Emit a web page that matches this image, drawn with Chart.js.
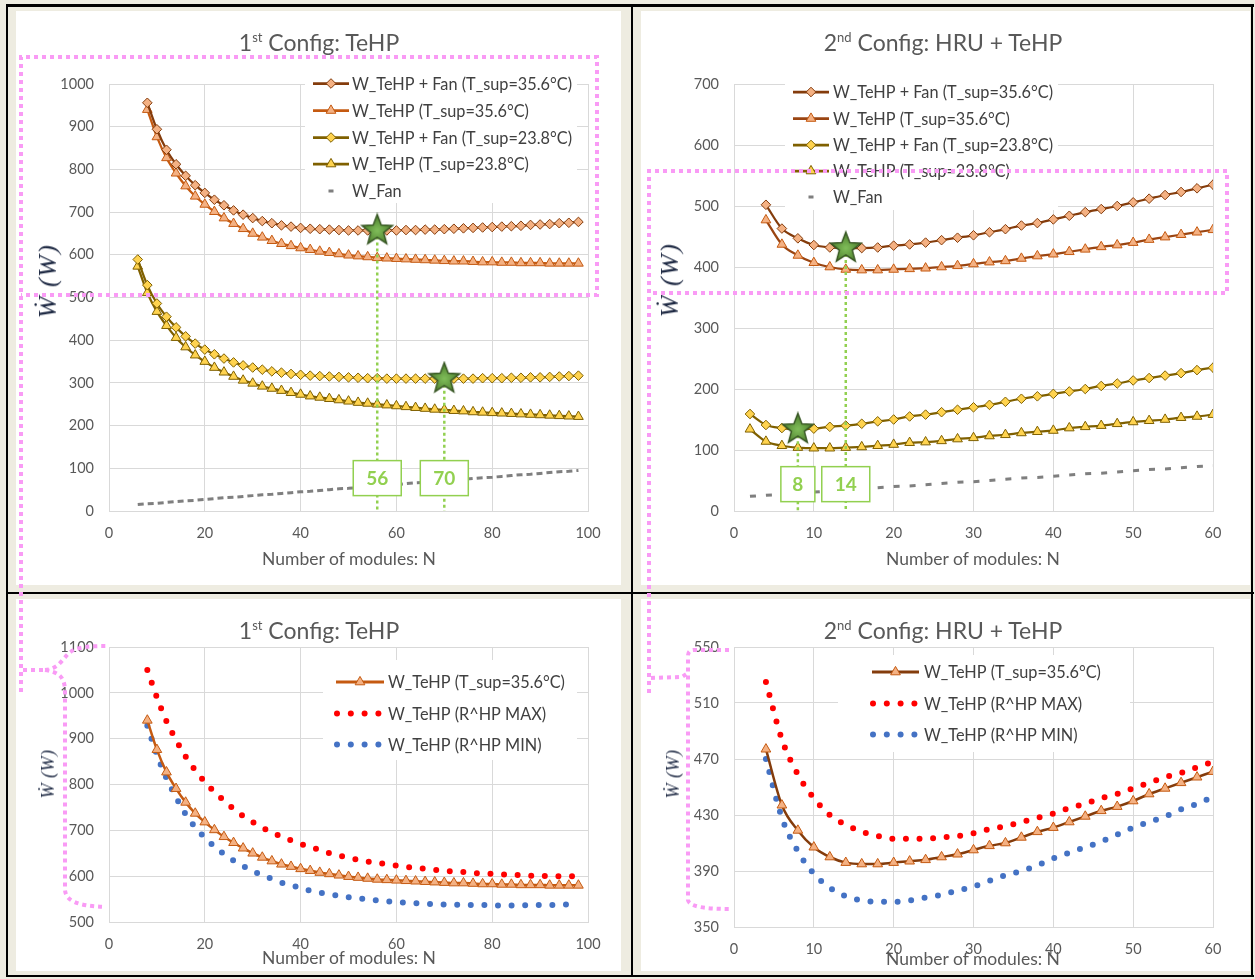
<!DOCTYPE html>
<html>
<head>
<meta charset="utf-8">
<title>Power consumption vs number of modules</title>
<script src="https://cdn.jsdelivr.net/npm/chart.js@4.4.1/dist/chart.umd.min.js"></script>
<style>
  html, body { margin: 0; padding: 0; }
  body { width: 1255px; height: 979px; background: #EEECE1; position: relative; overflow: hidden;
         font-family: Lato, "Open Sans", sans-serif; }
  .rule { position: absolute; background: #000; z-index: 5; }
  .panel { position: absolute; background: #fff; z-index: 1; }
  canvas.plot { position: absolute; z-index: 2; }
  .txt { position: absolute; transform: translate(-50%, -50%); white-space: nowrap; z-index: 3;
         line-height: 1; color: #595959; }
  .title { font-size: 23px; }
  .title sup { font-size: 13px; vertical-align: 9px; line-height: 0; }
  .xtitle { font-size: 17.5px; }
  .ytitle { font-family: "Liberation Serif", "DejaVu Serif", serif; font-style: italic; color: #1F2A44;
            transform: translate(-50%, -50%) rotate(-90deg); }
  #overlay { position: absolute; left: 0; top: 0; z-index: 6; pointer-events: none; }
</style>
</head>
<body>

<!-- white chart panels -->
<div class="panel" style="left:16px;top:11px;width:605px;height:574px"></div>
<div class="panel" style="left:641px;top:11px;width:609px;height:574px"></div>
<div class="panel" style="left:16px;top:599px;width:605px;height:372px"></div>
<div class="panel" style="left:641px;top:599px;width:609px;height:372px"></div>

<!-- black frame -->
<div class="rule" style="left:6px;top:4px;width:1248px;height:3px"></div>
<div class="rule" style="left:6px;top:975px;width:1248px;height:2px"></div>
<div class="rule" style="left:6px;top:4px;width:2px;height:973px"></div>
<div class="rule" style="left:1251px;top:4px;width:2px;height:973px"></div>
<div class="rule" style="left:631px;top:4px;width:2px;height:973px"></div>
<div class="rule" style="left:6px;top:592px;width:1248px;height:2px"></div>

<canvas class="plot" id="c1"></canvas>
<canvas class="plot" id="c2"></canvas>
<canvas class="plot" id="c3"></canvas>
<canvas class="plot" id="c4"></canvas>

<!-- titles and axis titles -->
<div class="txt title" style="left:319px;top:42px">1<sup>st</sup> Config: TeHP</div>
<div class="txt title" style="left:943px;top:42px">2<sup>nd</sup> Config: HRU + TeHP</div>
<div class="txt title" style="left:319px;top:630px">1<sup>st</sup> Config: TeHP</div>
<div class="txt title" style="left:943px;top:630px">2<sup>nd</sup> Config: HRU + TeHP</div>

<div class="txt xtitle" style="left:349px;top:559px">Number of modules: N</div>
<div class="txt xtitle" style="left:973px;top:559px">Number of modules: N</div>
<div class="txt xtitle" style="left:349px;top:958px">Number of modules: N</div>
<div class="txt xtitle" style="left:973px;top:959px">Number of modules: N</div>

<div class="txt ytitle" style="left:48px;top:281px;font-size:26px;letter-spacing:1.5px">Ẇ (W)</div>
<div class="txt ytitle" style="left:670px;top:280px;font-size:26px;letter-spacing:1.5px">Ẇ (W)</div>
<div class="txt ytitle" style="left:48px;top:774px;font-size:18px;letter-spacing:0.5px">Ẇ (W)</div>
<div class="txt ytitle" style="left:673px;top:774px;font-size:18px;letter-spacing:0.5px">Ẇ (W)</div>

<canvas id="overlay" width="1255" height="979"></canvas>

<script>
// ---- number of modules ----
const N_CFG1 = [8,10,12,14,16,18,20,22,24,26,28,30,32,34,36,38,40,42,44,46,48,50,52,54,56,58,60,62,64,66,68,70,72,74,76,78,80,82,84,86,88,90,92,94,96,98];
const N_CFG1_FROM6 = [6,8,10,12,14,16,18,20,22,24,26,28,30,32,34,36,38,40,42,44,46,48,50,52,54,56,58,60,62,64,66,68,70,72,74,76,78,80,82,84,86,88,90,92,94,96,98];
const N_CFG2 = [4,6,8,10,12,14,16,18,20,22,24,26,28,30,32,34,36,38,40,42,44,46,48,50,52,54,56,58,60];
const N_CFG2_FROM2 = [2,4,6,8,10,12,14,16,18,20,22,24,26,28,30,32,34,36,38,40,42,44,46,48,50,52,54,56,58,60];

// ---- 1st config: TeHP (W) ----
const CFG1_TEHP_FAN_356 = [956,894,846,812,785,763,745,729,716,704,694,686,679,674,669,666,663,661,660,659,658,657,657,657,657,657,657,658,658,659,659,660,661,662,663,664,665,666,667,668,670,671,672,674,675,677];
const CFG1_TEHP_356     = [940,876,827,791,761,737,718,701,686,673,661,650,641,633,626,621,616,612,608,605,602,599,597,595,593,592,591,590,589,588,587,586,585,585,584,583,583,582,582,581,581,581,580,580,580,580];
const CFG1_TEHP_FAN_238 = [589,529,486,455,430,409,392,378,367,357,348,341,336,331,327,324,321,319,317,316,315,314,313,312,311,311,310,310,310,310,310,310,310,310,310,310,311,311,311,312,312,313,313,314,315,316,317];
const CFG1_TEHP_238     = [573,511,467,434,406,384,365,350,336,325,315,306,299,292,287,282,277,273,269,266,263,260,257,254,252,250,248,246,244,242,240,238,237,235,234,232,231,230,229,228,227,226,225,224,223,222,221];
const CFG1_FAN          = [15,17,18,20,22,24,25,27,29,31,32,34,36,38,39,41,43,45,46,48,50,52,53,55,57,59,60,62,64,66,67,69,71,72,74,76,78,79,81,83,85,86,88,90,92,93,95];
const CFG1_RHP_MAX      = [1050,990,938,897,861,831,806,784,765,747,731,718,706,696,686,678,670,664,657,650,645,640,636,632,629,626,623,620,618,616,614,612,610,609,607,606,605,604,603,602,601,601,600,600,600,600];
const CFG1_RHP_MIN      = [928,865,814,772,735,707,684,665,648,634,622,611,602,594,586,580,575,568,564,561,557,554,552,549,547,545,543,542,541,540,539,538,538,537,537,537,536,536,536,536,537,537,537,538,538,538];

// ---- 2nd config: HRU + TeHP (W) ----
const CFG2_TEHP_FAN_356 = [502,463,447,436,432,431,431,432,435,437,440,444,448,452,457,462,468,472,478,484,490,495,500,506,512,518,523,529,535];
const CFG2_TEHP_356     = [477,437,419,407,400,396,395,395,396,397,398,400,402,405,408,410,414,418,421,425,429,433,436,440,445,449,453,457,461];
const CFG2_TEHP_FAN_238 = [159,141,136,134,135,138,140,143,147,150,155,158,162,166,170,174,179,184,188,192,196,200,205,209,214,218,222,226,231,235];
const CFG2_TEHP_238     = [134,114,107,104,103,103,104,105,107,109,112,113,115,118,120,123,125,128,130,132,136,138,140,143,146,148,150,153,155,158];
const CFG2_FAN          = [24,26,27,29,31,33,34,36,38,40,41,43,45,47,48,50,52,54,55,57,59,61,62,64,66,68,69,71,73,74];
const CFG2_RHP_MAX      = [525,484,459,442,430,423,418,415,413,413,413,414,415,417,420,422,425,428,431,435,438,442,445,449,453,457,460,464,468];
const CFG2_RHP_MIN      = [470,428,404,388,378,372,369,368,368,369,371,373,376,379,383,387,390,394,399,403,407,411,416,421,425,429,434,438,443];

// ---- optimum module counts (N, W) ----
const CFG1_OPT = [{ n: 56, w: 657, label: '56' }, { n: 70, w: 310, label: '70' }];
const CFG2_OPT = [{ n: 14, w: 431, label: '14' }, { n: 8, w: 134, label: '8' }];

// ---- legend labels ----
const LBL_FAN_356 = 'W_TeHP + Fan (T_sup=35.6°C)';
const LBL_TEHP_356 = 'W_TeHP (T_sup=35.6°C)';
const LBL_FAN_238 = 'W_TeHP + Fan (T_sup=23.8°C)';
const LBL_TEHP_238 = 'W_TeHP (T_sup=23.8°C)';
const LBL_FAN = 'W_Fan';
const LBL_MAX = 'W_TeHP (R^HP MAX)';
const LBL_MIN = 'W_TeHP (R^HP MIN)';

const pts = (xs, ys) => xs.map((x, i) => ({ x: x, y: ys[i] }));

// colours
const BROWN = '#843C0C', ORANGE = '#C55A11', ORANGE_FILL = '#F4B183';
const OLIVE = '#7F6000', GOLD_FILL = '#FFD34F', GREY = '#7F7F7F';
const OPT_GREEN = '#92D050';

function makeStar(R, r) {
  const c = document.createElement('canvas');
  const s = Math.ceil(2 * R + 4);
  c.width = s; c.height = s;
  const g = c.getContext('2d');
  const cx = s / 2, cy = s / 2;
  g.beginPath();
  for (let i = 0; i < 10; i++) {
    const a = -Math.PI / 2 + i * Math.PI / 5;
    const rad = i % 2 ? r : R;
    g.lineTo(cx + rad * Math.cos(a), cy + rad * Math.sin(a));
  }
  g.closePath();
  const grad = g.createRadialGradient(cx, cy, 1, cx, cy, R);
  grad.addColorStop(0, '#7DBA57');
  grad.addColorStop(1, '#4A7B2B');
  g.fillStyle = grad; g.fill();
  g.lineWidth = 1.5; g.strokeStyle = '#375623'; g.stroke();
  return c;
}
const STAR = makeStar(16, 6.8);

function series(label, data, line, style, fill, edge, order) {
  return {
    label: label, data: data, borderColor: line, borderWidth: 2.25,
    pointStyle: style, pointRadius: style === 'triangle' ? 5.6 : 4.8,
    pointBackgroundColor: fill, pointBorderColor: edge, pointBorderWidth: 1,
    cubicInterpolationMode: 'monotone', order: order
  };
}
function fanSeries(data, dash) {
  return { label: LBL_FAN, data: data, borderColor: GREY, borderWidth: 3, borderDash: dash,
           pointRadius: 0, order: 7 };
}
function dottedSeries(label, data, color) {
  return { label: label, data: data, borderColor: color, borderWidth: 6, borderDash: [0, 13.6],
           borderCapStyle: 'round', pointRadius: 0, cubicInterpolationMode: 'monotone', order: 5 };
}
function optMarks(list) {
  const out = [];
  list.forEach(o => {
    out.push({ label: 'opt', data: [{ x: o.n, y: o.w }], showLine: false, pointStyle: STAR,
               pointRadius: 16, order: 0 });
    out.push({ label: 'opt', data: [{ x: o.n, y: o.w }, { x: o.n, y: 0 }], borderColor: OPT_GREEN,
               borderWidth: 2.5, borderDash: [3, 3], pointRadius: 0, order: 1 });
  });
  return out;
}

function drawMarker(ctx, style, x, y, r, fill, edge) {
  ctx.beginPath();
  if (style === 'rectRot') {
    ctx.moveTo(x, y - r); ctx.lineTo(x + r, y); ctx.lineTo(x, y + r); ctx.lineTo(x - r, y);
  } else {
    ctx.moveTo(x, y - r); ctx.lineTo(x + 0.866 * r, y + 0.5 * r); ctx.lineTo(x - 0.866 * r, y + 0.5 * r);
  }
  ctx.closePath();
  ctx.fillStyle = fill; ctx.fill();
  ctx.lineWidth = 1; ctx.strokeStyle = edge; ctx.stroke();
}

// legend, optimum boxes (positions in page pixels)
function decor(panel, d) {
  return {
    id: 'decor',
    beforeDatasetsDraw(chart) {
      const ctx = chart.ctx, L = d.legend, ox = panel.x, oy = panel.y;
      ctx.save();
      ctx.fillStyle = '#fff';
      ctx.fillRect(L.box[0] - ox, L.box[1] - oy, L.box[2] - L.box[0], L.box[3] - L.box[1]);
      const x0 = L.x0 - ox, x1 = L.x1 - ox, xc = (x0 + x1) / 2;
      L.items.forEach((it, i) => {
        const ds = chart.data.datasets[it.ds];
        const y = L.rows[i] - oy;
        if (it.kind === 'series') {
          ctx.beginPath(); ctx.moveTo(x0, y); ctx.lineTo(x1, y);
          ctx.strokeStyle = ds.borderColor; ctx.lineWidth = ds.borderWidth + 0.5; ctx.stroke();
          drawMarker(ctx, ds.pointStyle, xc, y, ds.pointRadius, ds.pointBackgroundColor, ds.pointBorderColor);
        } else if (it.kind === 'dots') {
          ctx.fillStyle = ds.borderColor;
          for (let k = 0; k < 4; k++) {
            ctx.beginPath(); ctx.arc(x0 + 1 + k * 13.8, y, 3, 0, Math.PI * 2); ctx.fill();
          }
        } else {
          ctx.fillStyle = ds.borderColor;
          ctx.fillRect(xc - 2.5, y - 1.5, 5, 3);
        }
        ctx.fillStyle = '#404040';
        ctx.font = '16.3px Lato';
        ctx.textBaseline = 'middle';
        ctx.textAlign = 'left';
        ctx.fillText(ds.label, L.tx - ox, y + 1);
      });
      ctx.restore();
    },
    afterDatasetsDraw(chart) {
      if (!d.boxes) return;
      const ctx = chart.ctx, xs = chart.scales.x, ys = chart.scales.y;
      ctx.save();
      d.boxes.forEach(b => {
        const cx = xs.getPixelForValue(b.n), cy = ys.getPixelForValue(b.at);
        const w = b.text.length > 1 ? 48 : 34, h = 35;
        ctx.fillStyle = '#fff';
        ctx.fillRect(cx - w / 2, cy - h / 2, w, h);
        ctx.strokeStyle = OPT_GREEN; ctx.lineWidth = 1.5;
        ctx.strokeRect(cx - w / 2, cy - h / 2, w, h);
        ctx.fillStyle = OPT_GREEN;
        ctx.font = 'bold 19px Lato';
        ctx.textAlign = 'center'; ctx.textBaseline = 'middle';
        ctx.fillText(b.text, cx, cy + 1);
      });
      ctx.restore();
    }
  };
}

function build(id, panel, plot, ax, datasets, d) {
  const cv = document.getElementById(id);
  cv.width = panel.w; cv.height = panel.h;
  cv.style.left = panel.x + 'px'; cv.style.top = panel.y + 'px';
  const YW = 60, XH = 40;
  const tickFont = { family: 'Lato', size: 14.5 };
  return new Chart(cv, {
    type: 'line',
    data: { datasets: datasets },
    options: {
      responsive: false, animation: false, devicePixelRatio: 1,
      layout: { padding: {
        left: plot.l - panel.x - YW, top: plot.t - panel.y,
        right: panel.x + panel.w - plot.r, bottom: panel.y + panel.h - plot.b - XH } },
      plugins: { legend: { display: false }, tooltip: { enabled: false }, title: { display: false } },
      scales: {
        x: { type: 'linear', min: ax.xmin, max: ax.xmax,
             ticks: { stepSize: ax.xstep, padding: 14, color: '#595959', font: tickFont,
                      autoSkip: false, maxRotation: 0, callback: v => String(v) },
             grid: { color: '#D9D9D9', drawTicks: false }, border: { color: '#D9D9D9' },
             afterFit(s) { s.height = XH; s.paddingLeft = 0; s.paddingRight = 0; } },
        y: { type: 'linear', min: ax.ymin, max: ax.ymax,
             ticks: { stepSize: ax.ystep, padding: 15, color: '#595959', font: tickFont,
                      callback: v => String(v) },
             grid: { color: '#D9D9D9', drawTicks: false }, border: { color: '#D9D9D9' },
             afterFit(s) { s.width = YW; s.paddingTop = 0; s.paddingBottom = 0; } }
      }
    },
    plugins: [decor(panel, d)]
  });
}

// ---- top left: 1st config ----
(function () {
  const ds = optMarks(CFG1_OPT).concat([
    series(LBL_FAN_356, pts(N_CFG1, CFG1_TEHP_FAN_356), BROWN, 'rectRot', ORANGE_FILL, BROWN, 2),
    series(LBL_TEHP_356, pts(N_CFG1, CFG1_TEHP_356), ORANGE, 'triangle', ORANGE_FILL, ORANGE, 3),
    series(LBL_FAN_238, pts(N_CFG1_FROM6, CFG1_TEHP_FAN_238), OLIVE, 'rectRot', GOLD_FILL, OLIVE, 4),
    series(LBL_TEHP_238, pts(N_CFG1_FROM6, CFG1_TEHP_238), OLIVE, 'triangle', GOLD_FILL, OLIVE, 5),
    fanSeries(pts(N_CFG1_FROM6, CFG1_FAN), [6, 4])
  ]);
  build('c1', { x: 16, y: 11, w: 605, h: 574 }, { l: 109, t: 84, r: 588, b: 511 },
    { xmin: 0, xmax: 100, xstep: 20, ymin: 0, ymax: 1000, ystep: 100 }, ds, {
      legend: { box: [305, 72, 577, 203], x0: 313, x1: 349, tx: 352,
                rows: [83.5, 110.5, 137.5, 164, 191],
                items: [{ ds: 4, kind: 'series' }, { ds: 5, kind: 'series' }, { ds: 6, kind: 'series' },
                        { ds: 7, kind: 'series' }, { ds: 8, kind: 'dash' }] },
      boxes: [{ n: CFG1_OPT[0].n, at: 77, text: CFG1_OPT[0].label },
              { n: CFG1_OPT[1].n, at: 77, text: CFG1_OPT[1].label }]
    });
})();

// ---- top right: 2nd config ----
(function () {
  const ds = optMarks(CFG2_OPT).concat([
    series(LBL_FAN_356, pts(N_CFG2, CFG2_TEHP_FAN_356), BROWN, 'rectRot', ORANGE_FILL, BROWN, 2),
    series(LBL_TEHP_356, pts(N_CFG2, CFG2_TEHP_356), '#9A4512', 'triangle', ORANGE_FILL, ORANGE, 3),
    series(LBL_FAN_238, pts(N_CFG2_FROM2, CFG2_TEHP_FAN_238), OLIVE, 'rectRot', GOLD_FILL, OLIVE, 4),
    series(LBL_TEHP_238, pts(N_CFG2_FROM2, CFG2_TEHP_238), OLIVE, 'triangle', GOLD_FILL, OLIVE, 5),
    fanSeries(pts(N_CFG2_FROM2, CFG2_FAN), [6, 10])
  ]);
  build('c2', { x: 641, y: 11, w: 609, h: 574 }, { l: 734, t: 84, r: 1213, b: 511 },
    { xmin: 0, xmax: 60, xstep: 10, ymin: 0, ymax: 700, ystep: 100 }, ds, {
      legend: { box: [785, 78, 1058, 210], x0: 793, x1: 829, tx: 833,
                rows: [92, 118.5, 145, 171, 197],
                items: [{ ds: 4, kind: 'series' }, { ds: 5, kind: 'series' }, { ds: 6, kind: 'series' },
                        { ds: 7, kind: 'series' }, { ds: 8, kind: 'dash' }] },
      boxes: [{ n: CFG2_OPT[0].n, at: 44, text: CFG2_OPT[0].label },
              { n: CFG2_OPT[1].n, at: 44, text: CFG2_OPT[1].label }]
    });
})();

// ---- bottom left: 1st config, heat-pump ratio bounds ----
(function () {
  const tri = series(LBL_TEHP_356, pts(N_CFG1, CFG1_TEHP_356), ORANGE, 'triangle', ORANGE_FILL, ORANGE, 1);
  tri.borderWidth = 2.5;
  const ds = [tri,
    dottedSeries(LBL_MAX, pts(N_CFG1, CFG1_RHP_MAX), '#FF0000'),
    dottedSeries(LBL_MIN, pts(N_CFG1, CFG1_RHP_MIN), '#4472C4')];
  build('c3', { x: 16, y: 599, w: 605, h: 372 }, { l: 109, t: 647, r: 588, b: 922 },
    { xmin: 0, xmax: 100, xstep: 20, ymin: 500, ymax: 1100, ystep: 100 }, ds, {
      legend: { box: [323, 660, 577, 760], x0: 336, x1: 384, tx: 388,
                rows: [682, 713.5, 744.5],
                items: [{ ds: 0, kind: 'series' }, { ds: 1, kind: 'dots' }, { ds: 2, kind: 'dots' }] }
    });
})();

// ---- bottom right: 2nd config, heat-pump ratio bounds ----
(function () {
  const tri = series(LBL_TEHP_356, pts(N_CFG2, CFG2_TEHP_356), BROWN, 'triangle', ORANGE_FILL, ORANGE, 1);
  tri.borderWidth = 2.5;
  const ds = [tri,
    dottedSeries(LBL_MAX, pts(N_CFG2, CFG2_RHP_MAX), '#FF0000'),
    dottedSeries(LBL_MIN, pts(N_CFG2, CFG2_RHP_MIN), '#4472C4')];
  build('c4', { x: 641, y: 599, w: 609, h: 372 }, { l: 734, t: 647, r: 1213, b: 927 },
    { xmin: 0, xmax: 60, xstep: 10, ymin: 350, ymax: 550, ystep: 40 }, ds, {
      legend: { box: [838, 655, 1130, 752], x0: 872, x1: 919, tx: 924,
                rows: [672, 703.5, 734.5],
                items: [{ ds: 0, kind: 'series' }, { ds: 1, kind: 'dots' }, { ds: 2, kind: 'dots' }] }
    });
})();

// ---- magenta dotted call-out frames and braces across the panels ----
(function () {
  const g = document.getElementById('overlay').getContext('2d');
  g.strokeStyle = '#F99BF5';
  g.lineWidth = 4;
  g.setLineDash([4, 4]);
  const path = f => { g.beginPath(); f(); g.stroke(); };
  path(() => { g.moveTo(21, 692); g.lineTo(21, 57); g.lineTo(597, 57); g.lineTo(597, 295); g.lineTo(21, 295); });
  path(() => { g.moveTo(23, 670); g.lineTo(45, 670); });
  path(() => { g.moveTo(45, 670); g.bezierCurveTo(58, 669, 62, 660, 68, 654); g.bezierCurveTo(74, 648, 84, 646, 106, 646); });
  path(() => { g.moveTo(45, 670); g.bezierCurveTo(58, 672, 65, 676, 65, 692); g.lineTo(65, 890);
               g.bezierCurveTo(66, 900, 75, 906, 106, 907); });
  path(() => { g.moveTo(649, 693); g.lineTo(649, 171); g.lineTo(1227, 171); g.lineTo(1227, 293); g.lineTo(649, 293); });
  path(() => { g.moveTo(651, 678); g.lineTo(682, 677); g.lineTo(688, 673); });
  path(() => { g.moveTo(729, 650); g.lineTo(694, 650); g.quadraticCurveTo(688, 650, 688, 656); g.lineTo(688, 900);
               g.quadraticCurveTo(689, 909, 730, 909); });
})();
</script>
</body>
</html>
